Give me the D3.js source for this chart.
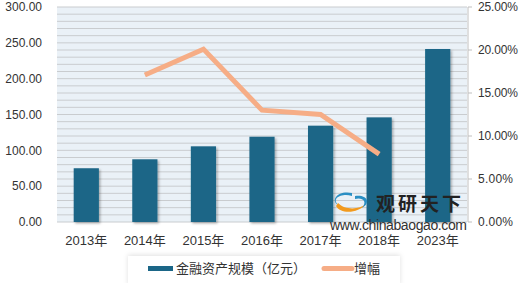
<!DOCTYPE html>
<html>
<head>
<meta charset="utf-8">
<script src="https://cdn.jsdelivr.net/npm/d3@7"></script>
<style>
  body { margin: 0; background: #fff; }
  text { font-family: "Liberation Sans", "Noto Sans CJK SC", sans-serif; }
</style>
</head>
<body>
<div id="chart"></div>
<script>
const years = ["2013年", "2014年", "2015年", "2016年", "2017年", "2018年", "2023年"];
const assets = [75, 87.5, 105.6, 119, 134.4, 146, 241.4];
const growth = [null, 17.1, 20.1, 13.0, 12.5, 7.9, null];
const leftTicks = [0, 50, 100, 150, 200, 250, 300];
const rightTicks = [0, 5, 10, 15, 20, 25];

const width = 520, height = 283;
const plot = { left: 57, right: 467, top: 7, bottom: 222 };

const svg = d3.select('#chart').append('svg')
    .attr('width', width).attr('height', height);

const defs = svg.append('defs');
const shadow = defs.append('filter').attr('id', 'shadow')
    .attr('x', '-30%').attr('y', '-30%').attr('width', '160%').attr('height', '160%');
shadow.append('feDropShadow').attr('dx', 1.5).attr('dy', 1.5)
    .attr('stdDeviation', 1.2).attr('flood-color', '#000').attr('flood-opacity', 0.3);
const soft = defs.append('filter').attr('id', 'soft')
    .attr('x', '-10%').attr('y', '-40%').attr('width', '120%').attr('height', '180%');
soft.append('feDropShadow').attr('dx', 0).attr('dy', -1)
    .attr('stdDeviation', 2.5).attr('flood-color', '#000').attr('flood-opacity', 0.12);

const x = d3.scaleBand().domain(years).range([plot.left, plot.right]).paddingInner(0.57).paddingOuter(0.285);
const xc = d3.scaleBand().domain(years).range([plot.left, plot.right]);
const y = d3.scaleLinear().domain([0, 300]).range([plot.bottom, plot.top]);
const y2 = d3.scaleLinear().domain([0, 25]).range([plot.bottom, plot.top]);

// background with striped grid
svg.append('rect')
    .attr('x', plot.left).attr('y', plot.top)
    .attr('width', plot.right - plot.left).attr('height', plot.bottom - plot.top)
    .attr('fill', '#eaf1f7');
svg.append('g').selectAll('line')
    .data(d3.range(0, 301, 10))
    .enter().append('line')
    .attr('x1', plot.left).attr('x2', plot.right)
    .attr('y1', d => y(d)).attr('y2', d => y(d))
    .attr('stroke', '#c9cccf').attr('stroke-width', 1);

// bars
svg.append('g').selectAll('rect')
    .data(assets)
    .enter().append('rect')
    .attr('x', (d, i) => x(years[i]))
    .attr('y', d => y(d))
    .attr('width', x.bandwidth())
    .attr('height', d => y(0) - y(d))
    .attr('fill', '#1b6687')
    .attr('filter', 'url(#shadow)');

// line
const line = d3.line()
    .defined(d => d != null)
    .x((d, i) => xc(years[i]) + xc.bandwidth() / 2)
    .y(d => y2(d));
svg.append('path')
    .datum(growth)
    .attr('d', line)
    .attr('fill', 'none')
    .attr('stroke', '#f6ad86')
    .attr('stroke-width', 5);

// left axis labels
svg.append('g').selectAll('text')
    .data(leftTicks)
    .enter().append('text')
    .attr('x', 42).attr('y', d => y(d)).attr('dy', '0.35em')
    .attr('text-anchor', 'end')
    .attr('font-size', 12).attr('fill', '#333')
    .text(d => d.toFixed(2));

// right axis
svg.append('line')
    .attr('x1', 468).attr('x2', 468).attr('y1', plot.top).attr('y2', plot.bottom)
    .attr('stroke', '#bfbfbf');
svg.append('g').selectAll('line')
    .data(rightTicks)
    .enter().append('line')
    .attr('x1', 468).attr('x2', 472)
    .attr('y1', d => y2(d)).attr('y2', d => y2(d))
    .attr('stroke', '#bfbfbf');
svg.append('g').selectAll('text')
    .data(rightTicks)
    .enter().append('text')
    .attr('x', 478).attr('y', d => y2(d)).attr('dy', '0.35em')
    .attr('font-size', 12).attr('fill', '#333')
    .attr('textLength', d => d >= 10 ? 40 : 35)
    .text(d => d.toFixed(2) + '%');

// x labels
svg.append('g').selectAll('text')
    .data(years)
    .enter().append('text')
    .attr('x', d => xc(d) + xc.bandwidth() / 2).attr('y', 240).attr('dy', '0.35em')
    .attr('text-anchor', 'middle')
    .attr('font-size', 13).attr('fill', '#333')
    .text(d => d);

// watermark
const wm = svg.append('g');
wm.append('path')
    .attr('d', 'M352,193 C338,190 330,200 338,205 C331,198 342,193 352,196 Z')
    .attr('fill', '#2a8fc4');
wm.append('path')
    .attr('d', 'M336,206 C340,214 358,214 366,204 C360,209 346,211 338,203 Z')
    .attr('fill', '#f29a1e');
wm.append('path')
    .attr('d', 'M355,196 C366,194 372,202 362,208 C368,201 362,197 355,199 Z')
    .attr('fill', '#2a8fc4');
wm.append('text')
    .attr('x', 376).attr('y', 211)
    .attr('font-size', 19).attr('font-weight', 'bold').attr('fill', '#222')
    .attr('letter-spacing', 3)
    .text('观研天下');
wm.append('text')
    .attr('x', 330).attr('y', 230)
    .attr('font-size', 14).attr('fill', '#333')
    .attr('textLength', 137)
    .text('www.chinabaogao.com');

// legend
const lg = svg.append('g');
lg.append('rect')
    .attr('x', 128).attr('y', 256).attr('width', 272).attr('height', 30)
    .attr('fill', '#fff').attr('filter', 'url(#soft)');
lg.append('rect')
    .attr('x', 148).attr('y', 266).attr('width', 25).attr('height', 5)
    .attr('fill', '#1b6687');
lg.append('text')
    .attr('x', 176).attr('y', 268.5).attr('dy', '0.35em')
    .attr('font-size', 13).attr('fill', '#333')
    .text('金融资产规模（亿元）');
lg.append('line')
    .attr('x1', 324).attr('x2', 352).attr('y1', 268.5).attr('y2', 268.5)
    .attr('stroke', '#f6ad86').attr('stroke-width', 5).attr('stroke-linecap', 'round');
lg.append('text')
    .attr('x', 354).attr('y', 268.5).attr('dy', '0.35em')
    .attr('font-size', 13).attr('fill', '#333')
    .text('增幅');
</script>
</body>
</html>
